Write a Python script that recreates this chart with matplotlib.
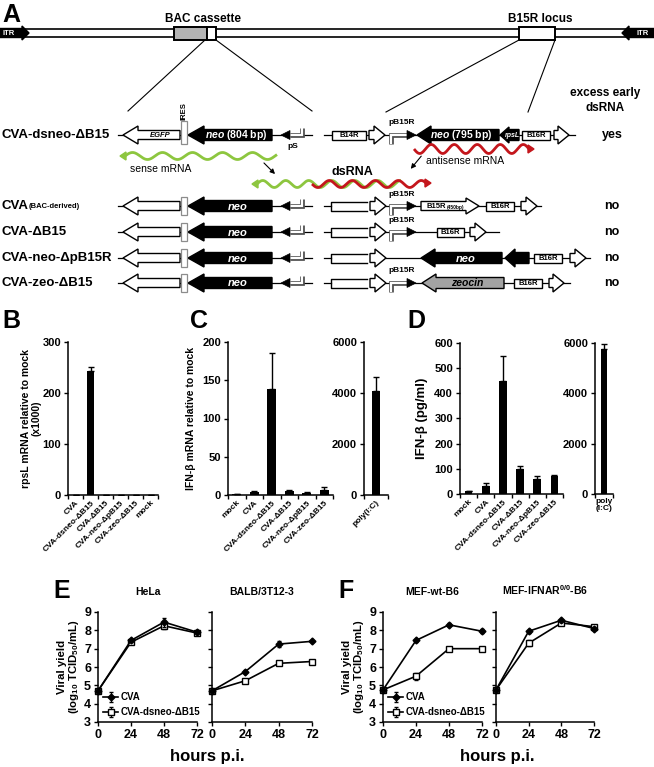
import numpy as np
import matplotlib
matplotlib.use('Agg')
import matplotlib.pyplot as plt
from matplotlib.patches import Polygon, Rectangle

plt.rcParams['font.family'] = ['Liberation Sans', 'DejaVu Sans']
plt.rcParams['font.weight'] = 'bold'
plt.rcParams['axes.labelweight'] = 'bold'
plt.rcParams['axes.titleweight'] = 'bold'
plt.rcParams['mathtext.fontset'] = 'custom'
plt.rcParams['mathtext.rm'] = 'Liberation Sans:bold'
plt.rcParams['mathtext.bf'] = 'Liberation Sans:bold'
plt.rcParams['mathtext.it'] = 'Liberation Sans:italic:bold'
plt.rcParams['mathtext.default'] = 'bf'
plt.rcParams['axes.linewidth'] = 1.1

# ---- data ----
strains_b = ['CVA', 'CVA-dsneo-ΔB15', 'CVA-ΔB15', 'CVA-neo-ΔpB15', 'CVA-zeo-ΔB15', 'mock']
rpsl = [0, 243, 0, 0, 0, 0]
rpsl_err = [0, 8, 0, 0, 0, 0]

strains_cd = ['mock', 'CVA', 'CVA-dsneo-ΔB15', 'CVA-ΔB15', 'CVA-neo-ΔpB15', 'CVA-zeo-ΔB15']
ifn_mrna = [1, 4, 139, 5, 3, 7]
ifn_mrna_err = [0.5, 1, 47, 1.5, 1, 4]
polyic_mrna = [4080]
polyic_mrna_err = [550]

ifn_prot = [10, 33, 450, 98, 58, 73]
ifn_prot_err = [2, 12, 98, 12, 12, 2]
polyic_prot = [5780]
polyic_prot_err = [200]

hours = [0, 24, 48, 72]
hela_cva = [4.7, 7.45, 8.45, 7.9]
hela_cva_err = [0, 0.08, 0.25, 0.1]
hela_ds = [4.7, 7.35, 8.25, 7.85]
hela_ds_err = [0, 0.08, 0.15, 0.1]
balb_cva = [4.7, 5.75, 7.25, 7.4]
balb_cva_err = [0, 0.07, 0.15, 0.05]
balb_ds = [4.7, 5.25, 6.2, 6.3]
balb_ds_err = [0, 0.08, 0.05, 0.08]
mefwt_cva = [4.75, 7.45, 8.3, 7.95]
mefwt_cva_err = [0, 0.1, 0.08, 0.1]
mefwt_ds = [4.75, 5.5, 7.0, 7.0]
mefwt_ds_err = [0, 0.2, 0.1, 0.05]
ifnar_cva = [4.75, 7.95, 8.55, 8.1]
ifnar_cva_err = [0, 0.08, 0.08, 0.1]
ifnar_ds = [4.75, 7.3, 8.4, 8.2]
ifnar_ds_err = [0, 0.15, 0.08, 0.08]

W, H = 654, 767
fig = plt.figure(figsize=(W / 100, H / 100), dpi=100)

# overlay axes in pixel coords (schematic, panel letters, shared labels)
sa = fig.add_axes([0, 0, 1, 1])
sa.set_xlim(0, W)
sa.set_ylim(H, 0)
sa.axis('off')

GREEN = '#8dc63f'
RED = '#c4161c'


def ax_px(x0, y0, x1, y1):
    ax = fig.add_axes([x0 / W, 1 - y1 / H, (x1 - x0) / W, (y1 - y0) / H])
    ax.set_facecolor('none')
    return ax


def block_arrow(x_tail, x_tip, y, body=5, head=9, hl=14, fc='k', ec='k', lw=1.0, z=3):
    d = 1 if x_tip > x_tail else -1
    xb = x_tip - d * hl
    pts = [(x_tail, y - body), (xb, y - body), (xb, y - head), (x_tip, y),
           (xb, y + head), (xb, y + body), (x_tail, y + body)]
    sa.add_patch(Polygon(pts, closed=True, fc=fc, ec=ec, lw=lw, zorder=z, joinstyle='miter'))


def box(x0, x1, y, h=4.5, label=None, fs=5.5):
    sa.add_patch(Rectangle((x0, y - h), x1 - x0, 2 * h, fc='white', ec='k', lw=1.0, zorder=3))
    if label:
        sa.text((x0 + x1) / 2, y + 0.5, label, fontsize=fs, ha='center', va='center', zorder=4)


def open_body(x0, x1, y, h=4.5):
    sa.plot([x1, x0, x0, x1], [y - h, y - h, y + h, y + h], color='k', lw=1.0, zorder=3)


def promoter(x_stem, x_tri, y, dy, d):
    xs = [x_stem, x_stem, x_tri]
    ys = [y + dy, y, y]
    sa.plot(xs, ys, color='0.3', lw=3.4, solid_joinstyle='miter', solid_capstyle='butt', zorder=3)
    sa.plot(xs, ys, color='white', lw=1.6, solid_joinstyle='miter', solid_capstyle='butt', zorder=3)
    tip = x_tri + d * 9
    sa.add_patch(Polygon([(x_tri, y - 4.5), (tip, y), (x_tri, y + 4.5)], closed=True,
                         fc='k', ec='k', lw=0.5, zorder=4))


def wave(x0, x1, y, amp, period, color, head_at, phase=0.0):
    xs = np.linspace(x0, x1, 400)
    ys = y - amp * np.sin(2 * np.pi * (xs - x0) / period + phase)
    sa.plot(xs, ys, color=color, lw=2.0, zorder=3, solid_capstyle='butt')
    if head_at == 'left':
        yy = ys[0]
        sa.add_patch(Polygon([(x0 - 5, yy), (x0 + 1, yy - 4), (x0 + 1, yy + 4)], fc=color, ec=color, zorder=3))
    else:
        yy = ys[-1]
        sa.add_patch(Polygon([(x1 + 5, yy), (x1 - 1, yy - 4), (x1 - 1, yy + 4)], fc=color, ec=color, zorder=3))


# ---- panel A: genome ----
sa.add_patch(Rectangle((0, 29), W, 8, fc='white', ec='k', lw=1.2, zorder=2))
block_arrow(0, 29, 33, body=4.5, head=7, hl=7, fc='k')
sa.text(9, 33.5, 'ITR', color='white', fontsize=5.5, ha='center', va='center', zorder=5)
block_arrow(W, 622, 33, body=4.5, head=7, hl=7, fc='k')
sa.text(643, 33.5, 'ITR', color='white', fontsize=5.5, ha='center', va='center', zorder=5)
sa.add_patch(Rectangle((174, 27), 33, 13, fc='#b4b4b4', ec='k', lw=1.4, zorder=3))
sa.add_patch(Rectangle((207, 27), 9, 13, fc='white', ec='k', lw=1.4, zorder=3))
sa.add_patch(Rectangle((519, 27), 36, 13, fc='white', ec='k', lw=1.4, zorder=3))
sa.text(203, 19, 'BAC cassette', fontsize=8.5, ha='center', va='center')
sa.text(540, 19, 'B15R locus', fontsize=8.5, ha='center', va='center')
for (xa, ya, xb, yb) in [(205, 40, 128, 111), (216, 40, 312, 111), (519, 40, 386, 112), (555, 40, 528, 112)]:
    sa.plot([xa, xb], [ya, yb], color='k', lw=0.8, zorder=2)
sa.text(605, 93, 'excess early', fontsize=8.5, ha='center', va='center')
sa.text(605, 108, 'dsRNA', fontsize=8.5, ha='center', va='center')
sa.text(2, 3, 'A', fontsize=18, ha='left', va='top')

rows_y = [135, 206, 232, 258, 283]
row_names = ['CVA-dsneo-ΔB15', 'CVA', 'CVA-ΔB15', 'CVA-neo-ΔpB15R', 'CVA-zeo-ΔB15']
answers = ['yes', 'no', 'no', 'no', 'no']
for i, (y, nm, ans) in enumerate(zip(rows_y, row_names, answers)):
    sa.text(2, y, nm, fontsize=9.5, ha='left', va='center')
    sa.text(612, y, ans, fontsize=9, ha='center', va='center')
    # left construct (BAC cassette)
    sa.plot([118, 312], [y, y], color='k', lw=0.9, zorder=1)
    block_arrow(180, 123, y, body=4.5, head=9, hl=15, fc='white')
    top = y - 14 if i == 0 else y - 9
    sa.add_patch(Rectangle((180.5, top), 6, y + 9 - top, fc='white', ec='0.55', lw=0.9, zorder=4))
    block_arrow(272, 188, y, body=5.5, head=9, hl=16, fc='k')
    promoter(302, 290, y, -7, -1)
    if i == 0:
        sa.text(236, y + 0.5, r'$\it{neo}$ (804 bp)', color='white', fontsize=7.5, ha='center', va='center', zorder=5)
        sa.text(160, y + 0.5, 'EGFP', fontsize=5.5, style='italic', ha='center', va='center', zorder=5)
        sa.text(183.5, 111, 'IRES', fontsize=5.5, rotation=90, ha='center', va='center')
        sa.text(293, y + 12, 'pS', fontsize=6, ha='center', va='center')
    else:
        sa.text(238, y + 0.5, 'neo', color='white', fontsize=8, style='italic', ha='center', va='center', zorder=5)
sa.text(29, rows_y[1] + 1, '(BAC-derived)', fontsize=5.5, ha='left', va='center')

# right constructs (B15R locus)
y = rows_y[0]
sa.plot([324, 575], [y, y], color='k', lw=0.9, zorder=1)
box(332, 366, y, label='B14R')
block_arrow(369, 385, y, body=4.5, head=9, hl=11, fc='white')
promoter(391, 407, y, 9, 1)
sa.text(402, y - 12, 'pB15R', fontsize=6, ha='center', va='center')
block_arrow(499, 417, y, body=5.5, head=9, hl=14, fc='k')
sa.text(461, y + 0.5, r'$\it{neo}$ (795 bp)', color='white', fontsize=7.5, ha='center', va='center', zorder=5)
block_arrow(519, 500, y, body=5.5, head=8, hl=9, fc='k')
sa.text(512, y + 0.5, 'rpsL', color='white', fontsize=5, style='italic', ha='center', va='center', zorder=5)
box(522, 550, y, label='B16R')
block_arrow(554, 569, y, body=4.5, head=9, hl=11, fc='white')

for y in rows_y[1:]:
    sa.plot([324, 331], [y, y], color='k', lw=0.9, zorder=1)
    open_body(331, 367, y)
    block_arrow(370, 386, y, body=4.5, head=9, hl=11, fc='white')

y = rows_y[1]
sa.plot([386, 541], [y, y], color='k', lw=0.9, zorder=1)
promoter(391, 407, y, 9, 1)
sa.text(402, y - 12, 'pB15R', fontsize=6, ha='center', va='center')
block_arrow(421, 479, y, body=4.5, head=8, hl=13, fc='white')
sa.text(436, y + 0.5, 'B15R', fontsize=5.5, ha='center', va='center', zorder=5)
sa.text(456, y + 1, '(450bp)', fontsize=3.5, ha='center', va='center', zorder=5)
box(486, 514, y, label='B16R')
block_arrow(521, 537, y, body=4.5, head=9, hl=11, fc='white')

y = rows_y[2]
sa.plot([386, 499], [y, y], color='k', lw=0.9, zorder=1)
promoter(391, 407, y, 9, 1)
sa.text(402, y - 12, 'pB15R', fontsize=6, ha='center', va='center')
box(437, 464, y, label='B16R')
block_arrow(470, 486, y, body=4.5, head=9, hl=11, fc='white')

y = rows_y[3]
sa.plot([386, 590], [y, y], color='k', lw=0.9, zorder=1)
block_arrow(502, 421, y, body=5.5, head=9, hl=14, fc='k')
sa.text(466, y + 0.5, 'neo', color='white', fontsize=8, style='italic', ha='center', va='center', zorder=5)
block_arrow(529, 505, y, body=5.5, head=9, hl=10, fc='k')
box(534, 562, y, label='B16R')
block_arrow(570, 586, y, body=4.5, head=9, hl=11, fc='white')

y = rows_y[4]
sa.plot([386, 570], [y, y], color='k', lw=0.9, zorder=1)
promoter(391, 407, y, 9, 1)
sa.text(402, y - 12, 'pB15R', fontsize=6, ha='center', va='center')
block_arrow(504, 422, y, body=5.5, head=9, hl=14, fc='#a3a3a3')
sa.text(467, y + 0.5, 'zeocin', fontsize=7.5, style='italic', ha='center', va='center', zorder=5)
box(514, 542, y, label='B16R')
block_arrow(549, 564, y, body=4.5, head=9, hl=11, fc='white')

# mRNA waves
wave(125, 277, 156, 3.5, 30, GREEN, 'left')
sa.text(130, 169, 'sense mRNA', fontsize=7.5, fontweight='normal', ha='left', va='center')
wave(414, 529, 149, 4.5, 23, RED, 'right', phase=np.pi)
sa.text(426, 161, 'antisense mRNA', fontsize=7.5, fontweight='normal', ha='left', va='center')
sa.annotate('', xy=(277, 176), xytext=(262, 161),
            arrowprops=dict(arrowstyle='-|>', color='k', lw=0.8, mutation_scale=7))
sa.annotate('', xy=(409, 171), xytext=(423, 154),
            arrowprops=dict(arrowstyle='-|>', color='k', lw=0.8, mutation_scale=7))
sa.text(332, 172, 'dsRNA', fontsize=9, ha='left', va='center')
wave(257, 401, 184, 3.5, 23, GREEN, 'left')
wave(312, 426, 184, 3.5, 23, RED, 'right', phase=np.pi)


def bold_ticks(ax):
    for lab in ax.get_xticklabels() + ax.get_yticklabels():
        lab.set_fontweight('bold')


# ---- bar panels ----
def bar_panel(ax, labels, vals, errs, ymax, step, width, lab_fs=6, rot=45):
    n = len(vals)
    x = np.arange(n)
    ax.bar(x, vals, width=width, color='k', zorder=2)
    lo = np.zeros(n)
    ax.errorbar(x, vals, yerr=[lo, errs], fmt='none', ecolor='k', elinewidth=1.0,
                capsize=2.5, capthick=1.0, zorder=3)
    ax.set_xlim(-0.5, n - 0.5)
    ax.set_ylim(0, ymax)
    ax.set_yticks(np.arange(0, ymax + 1, step))
    ax.spines[['top', 'right']].set_visible(False)
    ax.set_xticks(x)
    ax.set_xticks(np.arange(-0.5, n), minor=True)
    if rot:
        ax.set_xticklabels(labels, rotation=rot, ha='right', rotation_mode='anchor', fontsize=lab_fs)
    else:
        ax.set_xticklabels(labels, fontsize=lab_fs, linespacing=1.0)
    ax.tick_params(axis='x', which='major', length=0, pad=3)
    ax.tick_params(axis='x', which='minor', length=3, width=1.0, direction='out')
    ax.tick_params(axis='y', length=3, width=1.0, direction='out', labelsize=8, pad=2)
    bold_ticks(ax)


axB = ax_px(68, 342, 158, 495)
bar_panel(axB, strains_b, rpsl, rpsl_err, 300, 100, 0.45)
sa.text(31, 418, 'rpsL mRNA relative to mock\n(x1000)', fontsize=7.5, rotation=90,
        ha='center', va='center', linespacing=1.1)

axC = ax_px(228, 342, 333, 495)
bar_panel(axC, strains_cd, ifn_mrna, ifn_mrna_err, 200, 50, 0.5)
sa.text(191, 418, 'IFN-β mRNA relative to mock', fontsize=7.5, rotation=90, ha='center', va='center')
axC2 = ax_px(364, 342, 388, 495)
bar_panel(axC2, ['poly(I:C)'], polyic_mrna, polyic_mrna_err, 6000, 2000, 0.35)

axD = ax_px(460, 343, 563, 494)
bar_panel(axD, strains_cd, ifn_prot, ifn_prot_err, 600, 100, 0.45)
sa.text(422, 418, 'IFN-β (pg/ml)', fontsize=9.5, rotation=90, ha='center', va='center')
axD2 = ax_px(595, 343, 613, 494)
bar_panel(axD2, ['poly\n(I:C)'], polyic_prot, polyic_prot_err, 6000, 2000, 0.35, rot=0)

for lbl, (px, py) in zip('BCDEF', [(2, 309), (190, 309), (407, 309), (53, 579), (338, 579)]):
    sa.text(px, py, lbl, fontsize=18, ha='left', va='top')


# ---- growth curves ----
def growth(ax, title, cva, cva_err, ds, ds_err, first=False):
    ax.errorbar(hours, cva, yerr=cva_err, fmt='-D', color='k', ms=3.5, lw=1.2,
                capsize=1.5, elinewidth=0.8, label='CVA', clip_on=False, zorder=4)
    ax.errorbar(hours, ds, yerr=ds_err, fmt='-s', color='k', mfc='white', mec='k', ms=4.5,
                mew=1.0, lw=1.2, capsize=1.5, elinewidth=0.8, label='CVA-dsneo-ΔB15',
                clip_on=False, zorder=3)
    ax.set_xlim(0, 72)
    ax.set_ylim(3, 9)
    ax.set_xticks(hours)
    ax.set_yticks(range(3, 10))
    ax.spines[['top', 'right']].set_visible(False)
    ax.tick_params(axis='both', length=3, width=1.0, direction='out', labelsize=9, pad=2)
    ax.set_title(title, fontsize=7.5, pad=12)
    if first:
        ax.legend(loc='lower left', fontsize=7, frameon=False, handlelength=1.6,
                  handletextpad=0.2, borderaxespad=0.1, labelspacing=0.5)
    else:
        ax.set_yticklabels([])
    bold_ticks(ax)


axE1 = ax_px(98, 612, 197, 722)
growth(axE1, 'HeLa', hela_cva, hela_cva_err, hela_ds, hela_ds_err, first=True)
axE2 = ax_px(212, 612, 312, 722)
growth(axE2, 'BALB/3T12-3', balb_cva, balb_cva_err, balb_ds, balb_ds_err)
axF1 = ax_px(383, 612, 482, 722)
growth(axF1, 'MEF-wt-B6', mefwt_cva, mefwt_cva_err, mefwt_ds, mefwt_ds_err, first=True)
axF2 = ax_px(496, 612, 594, 722)
growth(axF2, 'MEF-IFNAR$^{0/0}$-B6', ifnar_cva, ifnar_cva_err, ifnar_ds, ifnar_ds_err)

ylab_e = 'Viral yield\n(log$_{10}$ TCID$_{50}$/mL)'
sa.text(69, 667, ylab_e, fontsize=8.2, rotation=90, ha='center', va='center', linespacing=1.0)
sa.text(354, 667, ylab_e, fontsize=8.2, rotation=90, ha='center', va='center', linespacing=1.0)

sa.text(207, 757, 'hours p.i.', fontsize=12, ha='center', va='center')
sa.text(497, 757, 'hours p.i.', fontsize=12, ha='center', va='center')

fig.savefig('out.png', dpi=100)
